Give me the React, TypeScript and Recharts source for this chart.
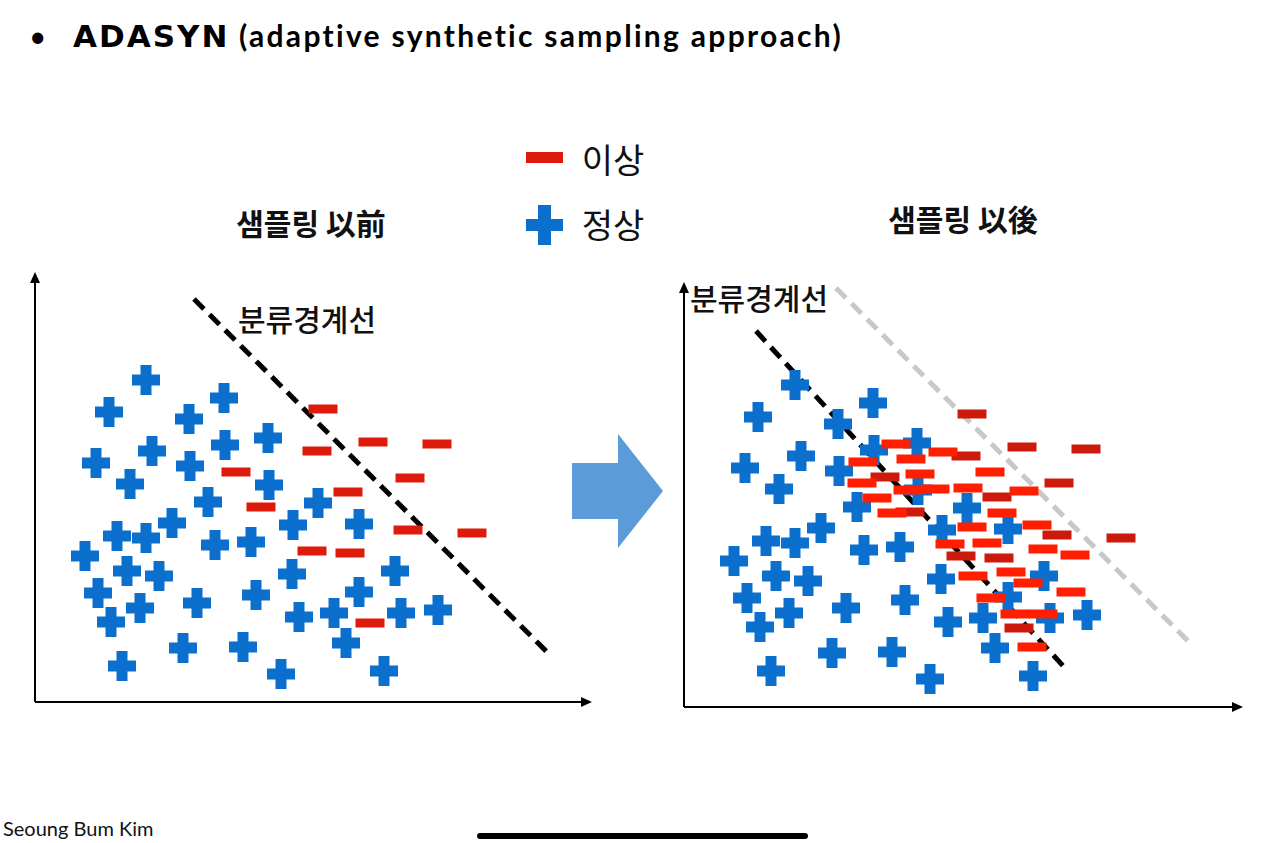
import React from "react";

import { ReferenceDot, ReferenceLine, Scatter, ScatterChart, XAxis, YAxis } from "recharts";


const normalPts = [
  [111, 322], [74, 290], [154, 283], [189, 304], [117, 251], [190, 257], [233, 264],
  [61, 239], [155, 236], [95, 218], [234, 217], [173, 200], [283, 199], [137, 179],
  [82, 166], [111, 164], [180, 157], [216, 160], [258, 177], [324, 178], [50, 146],
  [92, 131], [124, 126], [257, 128], [360, 131], [63, 109], [105, 94], [162, 99],
  [221, 107], [324, 110], [76, 80], [264, 85], [299, 89], [366, 89], [403, 92],
  [311, 59], [148, 54], [208, 55], [87, 36], [246, 28], [349, 31]
];

const abnormalPts = [
  [288, 293], [282, 251], [338, 260], [402, 258], [201, 230], [375, 224], [313, 210],
  [226, 195], [373, 172], [437, 169], [277, 151], [315, 149], [335, 79]
];

const syntheticPts = [
  [212, 263], [259, 255], [179, 245], [227, 248], [306, 235], [236, 233], [178, 224],
  [251, 218], [284, 219], [224, 217], [340, 216], [193, 209], [208, 194], [318, 194],
  [288, 180], [353, 182], [266, 163], [303, 164], [359, 158], [391, 152], [289, 131],
  [327, 135], [344, 124], [387, 115], [307, 109], [331, 93], [359, 93], [348, 60]
];

const boundaryBefore = [[159, 403], [513, 49]];
const boundaryAfter = [[72, 376], [381, 39]];
const boundaryOld = [[152, 419], [505, 65]];

const legendLabels = ["이상", "정상"];
const panelTitles = ["샘플링 以前", "샘플링 以後"];
const boundaryLabel = "분류경계선";

const toPoints = (arr) => arr.map(([x, y]) => ({ x, y }));
const toSegment = (arr) => arr.map(([x, y]) => ({ x, y }));

const BLUE = "#0b6fcd";
const RED = "#dd1a0b";
const DARK_RED = "#cc1a0c";
const BRIGHT_RED = "#ff1e00";
const KR = "'Noto Sans CJK KR', 'Noto Sans', sans-serif";

const PlusShape = (props) => {
  const { cx, cy } = props;
  if (cx == null || cy == null) return null;
  return (
    <g>
      <rect x={cx - 14} y={cy - 5.5} width={28} height={11} fill={BLUE} />
      <rect x={cx - 5.5} y={cy - 15} width={11} height={30} fill={BLUE} />
    </g>
  );
};

const minusShape = (color) => (props) => {
  const { cx, cy } = props;
  if (cx == null || cy == null) return null;
  return <rect x={cx - 14.5} y={cy - 4.5} width={29} height={9} fill={color} />;
};

const ArrowRight = (props) => (
  <polygon points={`${props.cx},${props.cy - 5} ${props.cx + 11},${props.cy} ${props.cx},${props.cy + 5}`} fill="#000" />
);

const ArrowUp = (props) => (
  <polygon points={`${props.cx - 5},${props.cy} ${props.cx},${props.cy - 11} ${props.cx + 5},${props.cy}`} fill="#000" />
);

type PanelProps = {
  left: number,
  top: number,
  xMax: number,
  yMax: number,
  margin: { top: number, right: number, bottom: number, left: number },
  after: boolean
}

const Panel = (props: PanelProps) => {
  const { xMax, yMax, margin, after } = props;
  const width = margin.left + xMax + margin.right;
  const height = margin.top + yMax + margin.bottom;
  return (
    <div style={{ position: "absolute", left: props.left, top: props.top }}>
      <ScatterChart width={width} height={height} margin={margin}>
        <XAxis type="number" dataKey="x" domain={[0, xMax]} hide />
        <YAxis type="number" dataKey="y" domain={[0, yMax]} hide />
        <ReferenceLine segment={[{ x: 0, y: 0 }, { x: xMax - 2, y: 0 }]} stroke="#000" strokeWidth={2} ifOverflow="visible" />
        <ReferenceLine segment={[{ x: 0, y: 0 }, { x: 0, y: yMax - 2 }]} stroke="#000" strokeWidth={2} ifOverflow="visible" />
        <ReferenceDot x={xMax - 11} y={0} r={0} shape={ArrowRight} ifOverflow="visible" />
        <ReferenceDot x={0} y={yMax - 11} r={0} shape={ArrowUp} ifOverflow="visible" />
        <Scatter data={toPoints(normalPts)} shape={PlusShape} isAnimationActive={false} />
        <Scatter data={toPoints(abnormalPts)} shape={minusShape(after ? DARK_RED : RED)} isAnimationActive={false} />
        {after && (
          <Scatter data={toPoints(syntheticPts)} shape={minusShape(BRIGHT_RED)} isAnimationActive={false} />
        )}
        {after && (
          <ReferenceLine segment={toSegment(boundaryOld)} stroke="#c8c8c8" strokeWidth={5} strokeDasharray="14 8" ifOverflow="visible" />
        )}
        <ReferenceLine
          segment={toSegment(after ? boundaryAfter : boundaryBefore)}
          stroke="#000"
          strokeWidth={5}
          strokeDasharray="14 8"
          ifOverflow="visible"
        />
      </ScatterChart>
    </div>
  );
};

const centered = (x, y, size, weight, text) => (
  <div
    style={{
      position: "absolute",
      left: x,
      top: y,
      transform: "translate(-50%, -50%)",
      fontFamily: KR,
      fontSize: size,
      fontWeight: weight,
      lineHeight: 1,
      color: "#111",
      whiteSpace: "nowrap"
    }}
  >
    {text}
  </div>
);

const App = () => {
  return (
    <div style={{ position: "absolute", left: 0, top: 0, width: 1283, height: 843, background: "#fff", overflow: "hidden" }}>
      <div style={{ position: "absolute", left: 29, top: 17, fontSize: 30, color: "#000", whiteSpace: "nowrap" }}>
        <span style={{ display: "inline-block", width: 44, fontFamily: "Lato, sans-serif" }}>•</span>
        <span style={{ fontFamily: "'DejaVu Sans', sans-serif", fontWeight: 700, fontSize: 31, letterSpacing: 2 }}>ADASYN</span>
        <span style={{ fontFamily: "Lato, sans-serif", fontWeight: 700, letterSpacing: 2.3 }}> (adaptive synthetic sampling approach)</span>
      </div>

      {centered(311, 222, 30, 700, panelTitles[0])}
      {centered(963, 218, 30, 700, panelTitles[1])}

      <div style={{ position: "absolute", left: 526, top: 152, width: 37, height: 11, background: RED }} />
      <div style={{ position: "absolute", left: 526, top: 219, width: 37, height: 12, background: BLUE }} />
      <div style={{ position: "absolute", left: 538, top: 205, width: 13, height: 40, background: BLUE }} />
      {centered(613, 159, 34, 400, legendLabels[0])}
      {centered(613, 224, 34, 400, legendLabels[1])}

      <Panel left={0} top={250} xMax={557} yMax={430} margin={{ top: 22, right: 28, bottom: 20, left: 35 }} after={false} />
      <Panel left={650} top={250} xMax={559} yMax={425} margin={{ top: 32, right: 28, bottom: 20, left: 34 }} after={true} />

      {centered(307, 318, 30, 500, boundaryLabel)}
      {centered(759, 297, 30, 500, boundaryLabel)}

      <svg style={{ position: "absolute", left: 0, top: 0 }} width={1283} height={843} pointerEvents="none">
        <polygon points="572,463 618,463 618,434 663,491 618,548 618,519 572,519" fill="#5b9bd9" />
      </svg>

      <div style={{ position: "absolute", left: 3, top: 816, fontFamily: "Lato, sans-serif", fontSize: 20, color: "#111", whiteSpace: "nowrap" }}>
        Seoung Bum Kim
      </div>
      <div style={{ position: "absolute", left: 477, top: 833, width: 331, height: 6, borderRadius: 3, background: "#000" }} />
    </div>
  );
};

export default App;
